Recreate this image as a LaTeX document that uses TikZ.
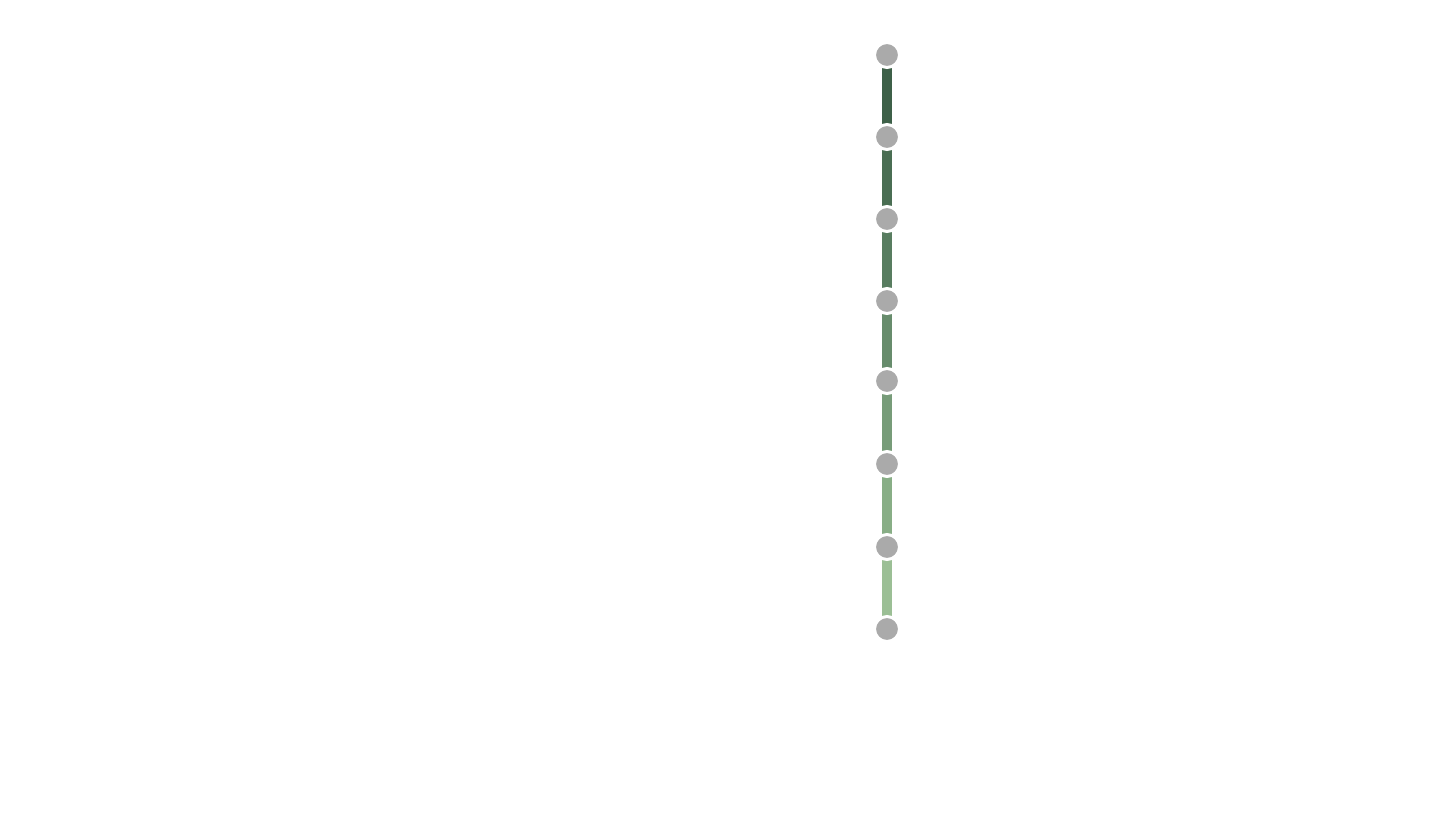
\documentclass[tikz,border=0pt]{standalone}
\usepackage{tikz}
\usetikzlibrary{positioning,backgrounds}
\usepackage{xcolor}
\definecolor{stopgray}{HTML}{AAAAAA}
\definecolor{legA}{HTML}{3D6048}
\definecolor{legB}{HTML}{4A6E53}
\definecolor{legC}{HTML}{587D60}
\definecolor{legD}{HTML}{678C6C}
\definecolor{legE}{HTML}{779C79}
\definecolor{legF}{HTML}{88AE86}
\definecolor{legG}{HTML}{9BBF95}

\begin{document}
\begin{tikzpicture}[x=0.5pt,y=-0.5pt,
  stopdot/.style={circle,fill=stopgray,draw=white,line width=1.5pt,minimum size=12.5pt,inner sep=0pt},
  leg/.style={line width=5pt}]
\useasboundingbox (0,0) rectangle (1430,820);
\node[stopdot] (s1) at (887,55) {};
\node[stopdot] (s2) at (887,137) {};
\node[stopdot] (s3) at (887,219) {};
\node[stopdot] (s4) at (887,301) {};
\node[stopdot] (s5) at (887,381) {};
\node[stopdot] (s6) at (887,464) {};
\node[stopdot] (s7) at (887,547) {};
\node[stopdot] (s8) at (887,629) {};
\begin{scope}[on background layer]
\draw[leg,legA] (s1.center) -- (s2.center);
\draw[leg,legB] (s2.center) -- (s3.center);
\draw[leg,legC] (s3.center) -- (s4.center);
\draw[leg,legD] (s4.center) -- (s5.center);
\draw[leg,legE] (s5.center) -- (s6.center);
\draw[leg,legF] (s6.center) -- (s7.center);
\draw[leg,legG] (s7.center) -- (s8.center);
\end{scope}
\end{tikzpicture}
\end{document}
